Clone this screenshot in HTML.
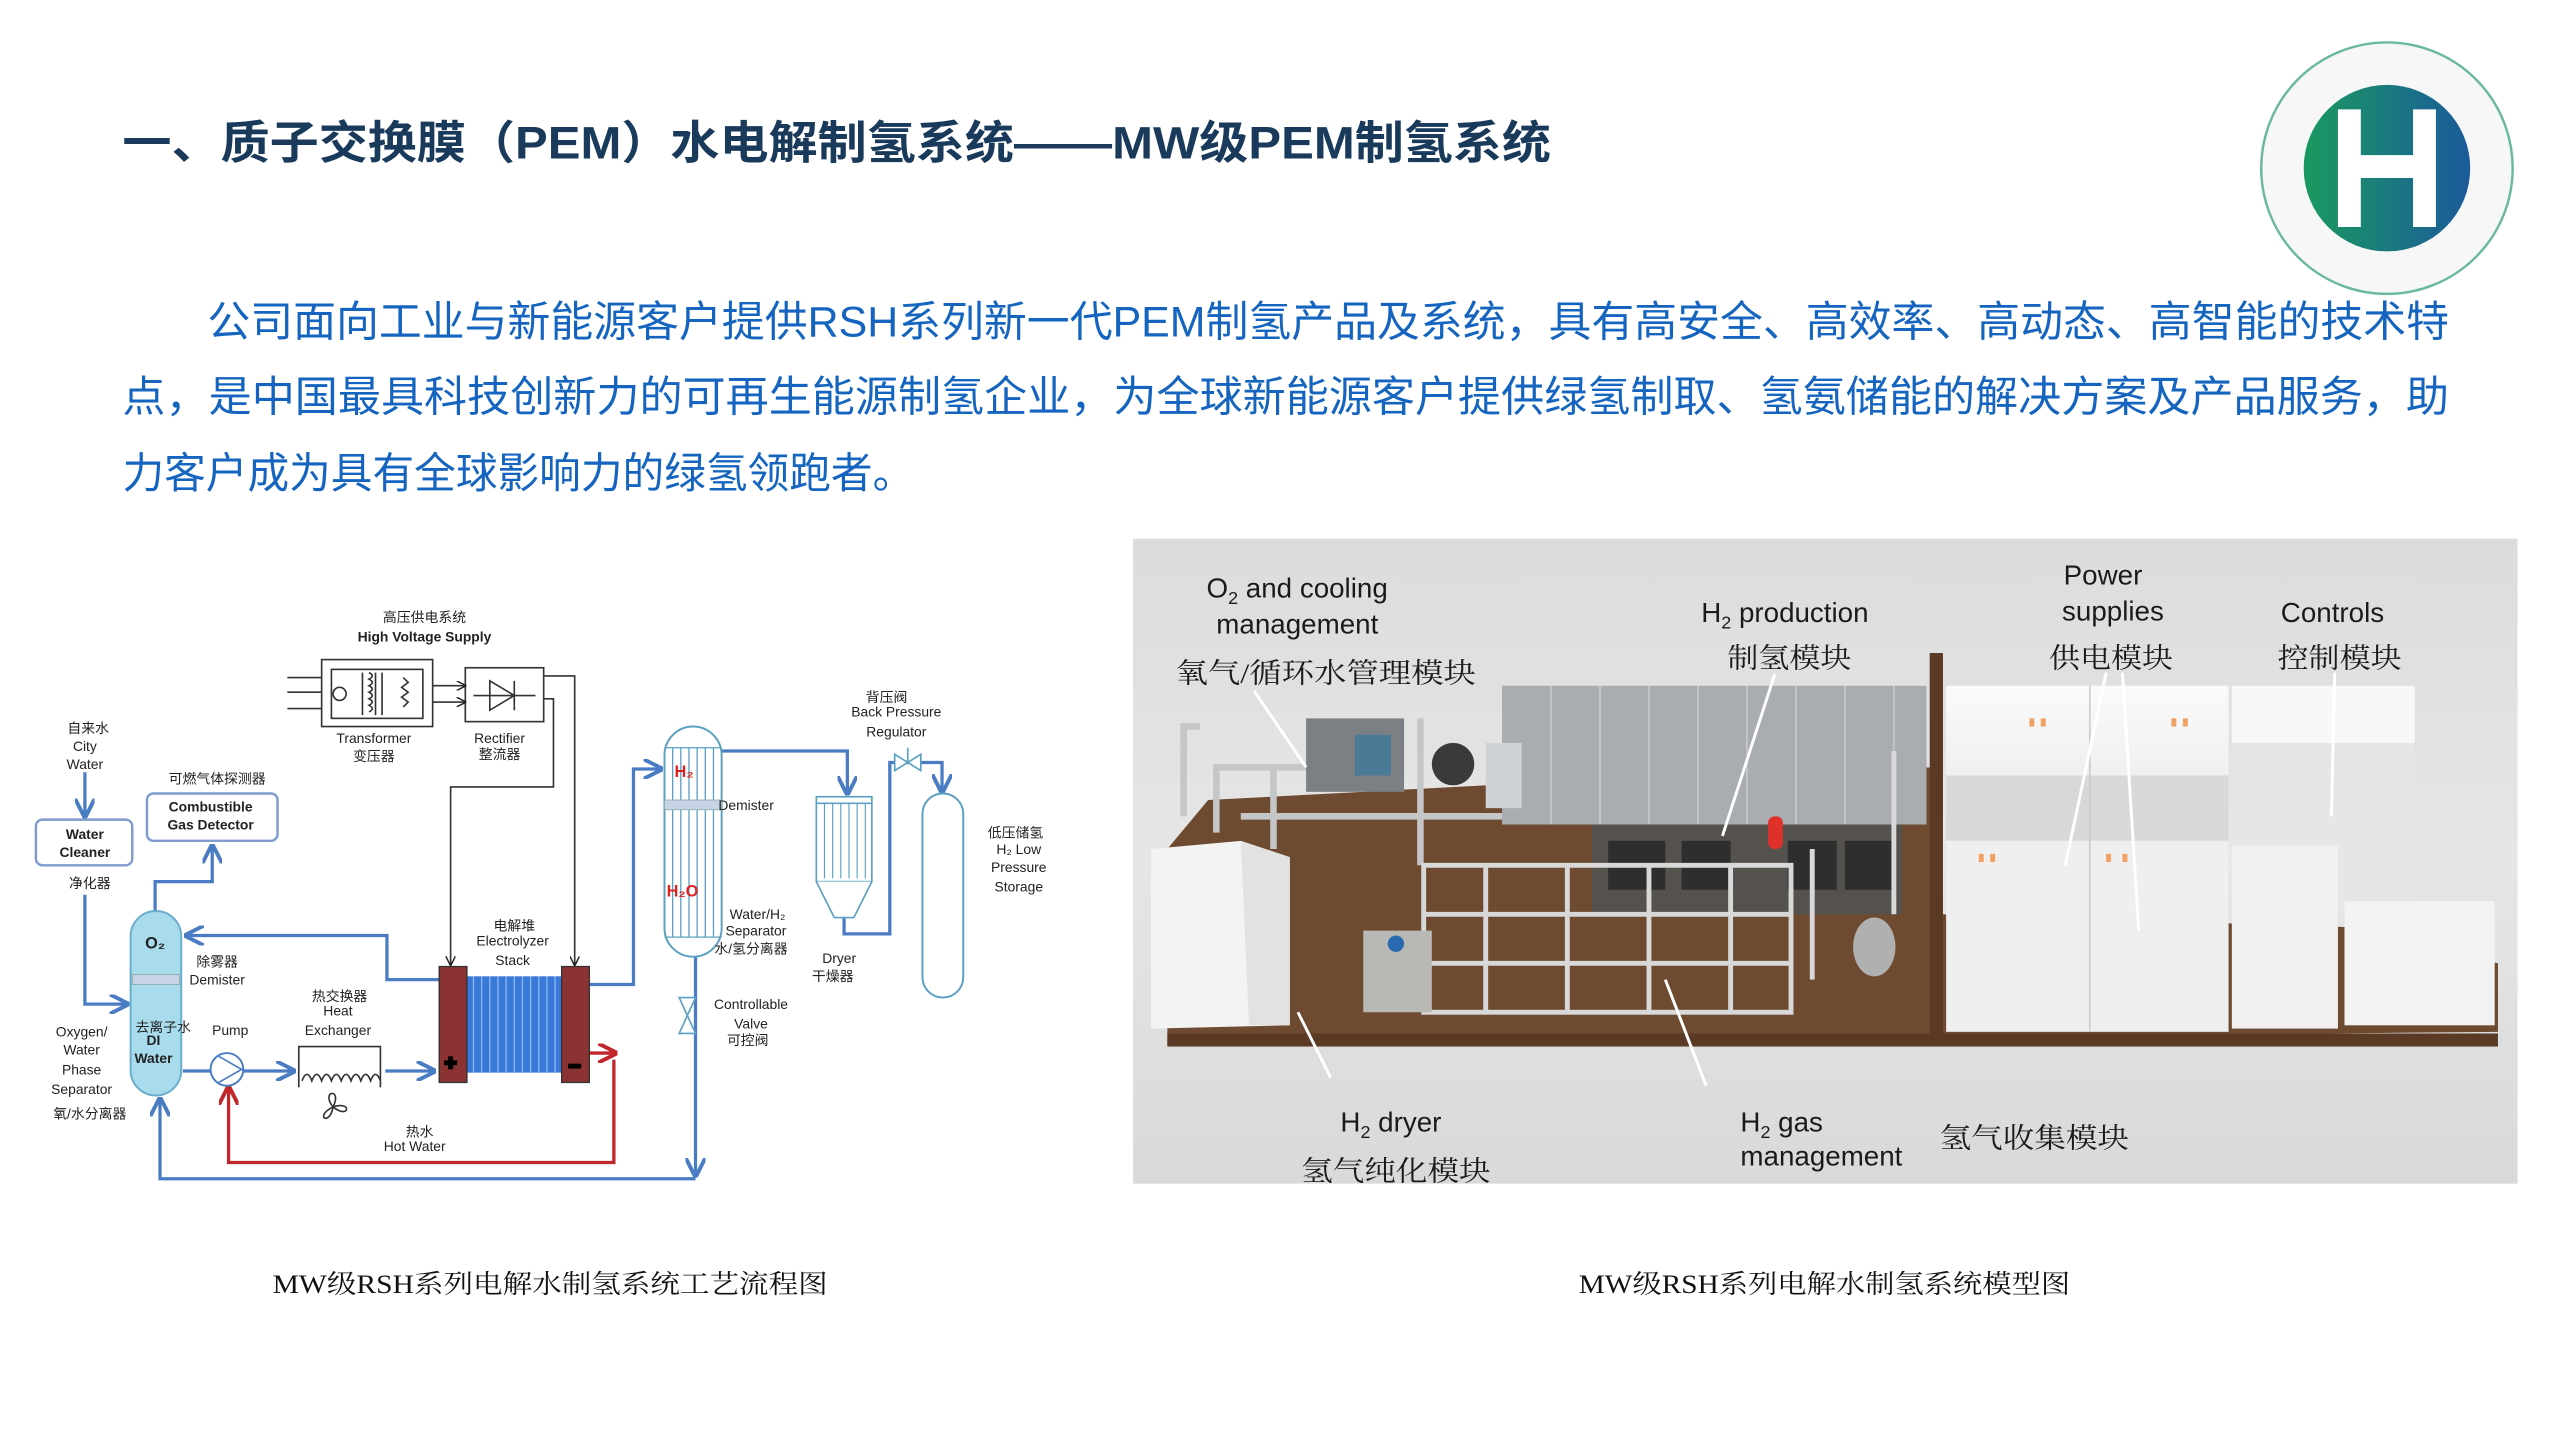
<!DOCTYPE html>
<html><head><meta charset="utf-8"><style>
html,body{margin:0;padding:0;background:#fff;width:2560px;height:1440px;overflow:hidden}
svg{display:block}
.t{font-family:"Liberation Sans","Noto Sans CJK SC",sans-serif}
.s{font-family:"Liberation Serif","Noto Serif CJK SC",serif}
</style></head><body>
<svg width="2560" height="1440" viewBox="0 0 1568 882" preserveAspectRatio="none" xmlns="http://www.w3.org/2000/svg">
<defs>
<linearGradient id="hg" x1="0" x2="1"><stop offset="0" stop-color="#1a9a60"/><stop offset="1" stop-color="#1a5a9a"/></linearGradient>
<linearGradient id="bg" x1="0" y1="0" x2="0" y2="1"><stop offset="0" stop-color="#dcdcdc"/><stop offset=".5" stop-color="#e6e6e6"/><stop offset="1" stop-color="#d9d9d9"/></linearGradient>
<linearGradient id="cab" x1="0" x2="0" y1="0" y2="1"><stop offset="0" stop-color="#fafafa"/><stop offset="1" stop-color="#e8e8e8"/></linearGradient>
<marker id="ab" viewBox="0 0 10 10" refX="9" refY="5" markerWidth="6" markerHeight="6" orient="auto"><path d="M0,0 L10,5 L0,10" fill="none" stroke="#4a7cc4" stroke-width="2"/></marker>
<marker id="ak" viewBox="0 0 10 10" refX="9" refY="5" markerWidth="6" markerHeight="6" orient="auto"><path d="M0,0 L10,5 L0,10" fill="none" stroke="#222" stroke-width="1.5"/></marker>
<marker id="ar" viewBox="0 0 10 10" refX="9" refY="5" markerWidth="6" markerHeight="6" orient="auto"><path d="M0,0 L10,5 L0,10" fill="none" stroke="#c0262a" stroke-width="2"/></marker>
</defs>

<!-- Title -->
<text class="t" x="75" y="97" font-size="28" font-weight="bold" fill="#1a3a5c" textLength="875" lengthAdjust="spacingAndGlyphs">一、质子交换膜（PEM）水电解制氢系统——MW级PEM制氢系统</text>

<!-- Logo -->
<circle cx="1462" cy="103" r="77" fill="#f7f7f7" stroke="#6ab8a0" stroke-width="1.5"/>
<circle cx="1462" cy="103" r="51" fill="url(#hg)"/>
<path d="M1432,67h14v28h32v-28h14v72h-14v-30h-32v30h-14z" fill="#fff"/>

<!-- Paragraph -->
<g class="t" font-size="26" fill="#1565c0">
<text x="127" y="206" textLength="1373" lengthAdjust="spacingAndGlyphs">公司面向工业与新能源客户提供RSH系列新一代PEM制氢产品及系统，具有高安全、高效率、高动态、高智能的技术特</text>
<text x="75" y="252" textLength="1425" lengthAdjust="spacingAndGlyphs">点，是中国最具科技创新力的可再生能源制氢企业，为全球新能源客户提供绿氢制取、氢氨储能的解决方案及产品服务，助</text>
<text x="75" y="299" textLength="485" lengthAdjust="spacingAndGlyphs">力客户成为具有全球影响力的绿氢领跑者。</text>
</g>

<!-- ===== Left process diagram ===== -->
<!-- transformer & rectifier -->
<g stroke="#333" fill="none" stroke-width="1">
<rect x="197" y="404" width="68" height="41" fill="#fff"/>
<rect x="203" y="410" width="56" height="30"/>
<line x1="176" y1="415" x2="197" y2="415"/><line x1="176" y1="424" x2="197" y2="424"/><line x1="176" y1="434" x2="197" y2="434"/>
<circle cx="208" cy="425" r="4"/>
<path d="M222,412v26M230,412v26M234,412v26M226,412 q4,2 0,4 q4,2 0,4 q4,2 0,4 q4,2 0,4 q4,2 0,4 q4,2 0,4"/>
<path d="M247,415l3,3l-4,3l4,3l-4,3l4,3l-3,3"/>
<rect x="285" y="409" width="48" height="33" fill="#fff"/>
<path d="M290,426h38M300,417v18l15,-9z M315,417v18"/>
<line x1="265" y1="420" x2="285" y2="420" marker-end="url(#ak)"/>
<line x1="265" y1="430" x2="285" y2="430" marker-end="url(#ak)"/>
<polyline points="333,414 352,414 352,591" marker-end="url(#ak)"/>
<polyline points="333,428 339,428 339,482 276,482 276,591" marker-end="url(#ak)"/>
</g>

<!-- blue pipes -->
<g stroke="#4a7cc4" stroke-width="2" fill="none">
<line x1="52" y1="473" x2="52" y2="500" marker-end="url(#ab)"/>
<polyline points="52,548 52,615 78,615" marker-end="url(#ab)"/>
<polyline points="95,558 95,540 130,540 130,518" marker-end="url(#ab)"/>
<polyline points="269,600 237,600 237,573 114,573" marker-end="url(#ab)"/>
<line x1="112" y1="656" x2="180" y2="656" marker-end="url(#ab)"/>
<line x1="236" y1="656" x2="266" y2="656" marker-end="url(#ab)"/>
<polyline points="361,603 388,603 388,471 405,471" marker-end="url(#ab)"/>
<polyline points="442,460 519,460 519,486" marker-end="url(#ab)"/>
<polyline points="517,562 517,572 545,572 545,467 577,467 577,485" marker-end="url(#ab)"/>
<polyline points="426,585 426,720" marker-end="url(#ab)"/>
<polyline points="426,722 98,722 98,673" marker-end="url(#ab)"/>
</g>
<!-- red hot water -->
<g stroke="#c0262a" stroke-width="2" fill="none">
<polyline points="376,649 376,712 140,712 140,666" marker-end="url(#ar)"/>
<line x1="361" y1="645" x2="377" y2="645" marker-end="url(#ar)"/>
</g>

<!-- boxes -->
<rect x="22" y="502" width="59" height="28" rx="4" fill="#fff" stroke="#7f9ccc" stroke-width="1.5"/>
<rect x="90" y="486" width="80" height="29" rx="4" fill="#fff" stroke="#7f9ccc" stroke-width="1.5"/>

<!-- O2 separator -->
<rect x="80" y="558" width="31" height="113" rx="15.5" fill="#a8dcec" stroke="#6aaccc" stroke-width="1.2"/>
<rect x="81" y="597" width="29" height="6" fill="#c9d3e6" stroke="#8aa" stroke-width=".5"/>

<!-- pump -->
<circle cx="139" cy="655" r="10" fill="#fff" stroke="#4a7cc4" stroke-width="1.2"/>
<path d="M134,647 L148,655 L134,663" fill="none" stroke="#4a7cc4" stroke-width="1"/>

<!-- heat exchanger -->
<g stroke="#333" fill="none" stroke-width="1">
<polyline points="183,666 183,641 233,641 233,666"/>
<path d="M185,662 q3,-8 6,0 q3,-8 6,0 q3,-8 6,0 q3,-8 6,0 q3,-8 6,0 q3,-8 6,0 q3,-8 6,0 q3,-8 6,0"/>
<path d="M204,678 c-8,-10 6,-12 0,0 c12,-4 10,8 0,0 c-2,12 -12,6 0,0"/>
</g>

<!-- stack -->
<rect x="286" y="598" width="58" height="59" fill="#3a78d8"/>
<g stroke="#8ab8f0" stroke-width=".8">
<line x1="290" y1="598" x2="290" y2="657"/><line x1="295" y1="598" x2="295" y2="657"/><line x1="300" y1="598" x2="300" y2="657"/><line x1="305" y1="598" x2="305" y2="657"/><line x1="310" y1="598" x2="310" y2="657"/><line x1="315" y1="598" x2="315" y2="657"/><line x1="320" y1="598" x2="320" y2="657"/><line x1="325" y1="598" x2="325" y2="657"/><line x1="330" y1="598" x2="330" y2="657"/><line x1="335" y1="598" x2="335" y2="657"/><line x1="340" y1="598" x2="340" y2="657"/>
</g>
<rect x="269" y="592" width="17" height="71" fill="#8b3232" stroke="#333" stroke-width=".8"/>
<rect x="344" y="592" width="17" height="71" fill="#8b3232" stroke="#333" stroke-width=".8"/>
<path d="M272,651h8M276,647v8" stroke="#000" stroke-width="3"/>
<path d="M348,653h8" stroke="#000" stroke-width="3"/>

<!-- H2 separator -->
<rect x="407" y="445" width="35" height="141" rx="17.5" fill="#fff" stroke="#5aa0c0" stroke-width="1.2"/>
<g stroke="#5aa0c0" stroke-width=".8">
<line x1="412" y1="458" x2="412" y2="574"/><line x1="417" y1="458" x2="417" y2="574"/><line x1="422" y1="458" x2="422" y2="574"/><line x1="427" y1="458" x2="427" y2="574"/><line x1="432" y1="458" x2="432" y2="574"/><line x1="437" y1="458" x2="437" y2="574"/>
<line x1="407" y1="458" x2="442" y2="458"/><line x1="407" y1="574" x2="442" y2="574"/>
</g>
<rect x="407" y="490" width="35" height="6" fill="#c9d3e6" stroke="#8aa" stroke-width=".5"/>

<!-- valve -->
<path d="M416,611 L426,611 L416,633 L426,633 Z" fill="#fff" stroke="#5aa0c0" stroke-width="1"/>
<!-- back pressure regulator -->
<path d="M548,462 L548,472 L564,462 L564,472 Z" fill="#fff" stroke="#5aa0c0" stroke-width="1"/>
<line x1="556" y1="458" x2="556" y2="467" stroke="#5aa0c0"/>

<!-- dryer -->
<g stroke="#5aa0c0" fill="#fff" stroke-width="1">
<rect x="500" y="488" width="34" height="52"/>
<line x1="500" y1="492" x2="534" y2="492"/>
<path d="M500,540 L511,562 L523,562 L534,540"/>
<path d="M505,492v46M510,492v46M515,492v46M520,492v46M525,492v46M530,492v46" fill="none" stroke-width=".7"/>
</g>
<!-- tank -->
<rect x="565" y="486" width="25" height="125" rx="12.5" fill="#fff" stroke="#5aa0c0" stroke-width="1.2"/>

<!-- left labels (on top) -->
<g class="t" fill="#222" font-size="8.5" text-anchor="middle">
<text x="260" y="381">高压供电系统</text>
<text x="260" y="393" font-weight="bold">High Voltage Supply</text>
<text x="229" y="455">Transformer</text><text x="229" y="466">变压器</text>
<text x="306" y="455">Rectifier</text><text x="306" y="465">整流器</text>
<text x="54" y="449">自来水</text><text x="52" y="460">City</text><text x="52" y="471">Water</text>
<text x="52" y="514" font-weight="bold">Water</text><text x="52" y="525" font-weight="bold">Cleaner</text>
<text x="55" y="544">净化器</text>
<text x="133" y="480">可燃气体探测器</text>
<text x="129" y="497" font-weight="bold">Combustible</text><text x="129" y="508" font-weight="bold">Gas Detector</text>
<text x="133" y="592">除雾器</text><text x="133" y="603">Demister</text>
<text x="100" y="632">去离子水</text><text x="94" y="640" font-weight="bold">DI</text><text x="94" y="651" font-weight="bold">Water</text>
<text x="50" y="635">Oxygen/</text><text x="50" y="646">Water</text><text x="50" y="658">Phase</text><text x="50" y="670">Separator</text>
<text x="55" y="685">氧/水分离器</text>
<text x="141" y="634">Pump</text>
<text x="208" y="613">热交换器</text><text x="207" y="622">Heat</text><text x="207" y="634">Exchanger</text>
<text x="315" y="570">电解堆</text><text x="314" y="579">Electrolyzer</text><text x="314" y="591">Stack</text>
<text x="257" y="696">热水</text><text x="254" y="705">Hot Water</text>
<text x="440" y="496" text-anchor="start">Demister</text>
<text x="464" y="563">Water/H₂</text><text x="463" y="573">Separator</text><text x="460" y="584">水/氢分离器</text>
<text x="514" y="590">Dryer</text><text x="510" y="601">干燥器</text>
<text x="460" y="618">Controllable</text><text x="460" y="630">Valve</text><text x="458" y="640">可控阀</text>
<text x="543" y="430">背压阀</text><text x="549" y="439">Back Pressure</text><text x="549" y="451">Regulator</text>
<text x="622" y="513">低压储氢</text><text x="624" y="523">H₂ Low</text><text x="624" y="534">Pressure</text><text x="624" y="546">Storage</text>
</g>
<text class="t" x="95" y="581" font-size="10" font-weight="bold" text-anchor="middle" fill="#222">O₂</text>
<text class="t" x="419" y="476" font-size="10" font-weight="bold" text-anchor="middle" fill="#d22">H₂</text>
<text class="t" x="418" y="549" font-size="10" font-weight="bold" text-anchor="middle" fill="#d22">H₂O</text>

<!-- ===== Right model image ===== -->
<rect x="694" y="330" width="848" height="395" fill="url(#bg)"/>
<!-- floor -->
<polygon points="715,640 1530,632 1530,590 1505,585 1505,570 1190,560 1190,400 1182,400 1182,470 930,480 740,490 715,520" fill="#6e4b30"/>
<rect x="715" y="633" width="815" height="8" fill="#5a3a24"/>
<!-- machinery -->
<polygon points="920,420 1180,420 1180,505 920,505" fill="#a9adb0"/>
<g stroke="#c8cacc" stroke-width="1"><line x1="950" y1="420" x2="950" y2="505"/><line x1="980" y1="420" x2="980" y2="505"/><line x1="1010" y1="420" x2="1010" y2="505"/><line x1="1040" y1="420" x2="1040" y2="505"/><line x1="1070" y1="420" x2="1070" y2="505"/><line x1="1100" y1="420" x2="1100" y2="505"/><line x1="1130" y1="420" x2="1130" y2="505"/><line x1="1160" y1="420" x2="1160" y2="505"/></g>
<rect x="975" y="505" width="190" height="55" fill="#55524e"/>
<rect x="985" y="515" width="35" height="30" fill="#2e2e2e"/><rect x="1030" y="515" width="30" height="30" fill="#2e2e2e"/><rect x="1095" y="515" width="30" height="30" fill="#2e2e2e"/><rect x="1130" y="515" width="30" height="30" fill="#2e2e2e"/>
<rect x="1083" y="500" width="9" height="20" rx="4" fill="#e0302a"/>
<!-- O2/cooling pipework -->
<g stroke="#c4c6c8" stroke-width="4" fill="none">
<path d="M725,500 v-55 h10 M745,510 v-40 h80 M760,500 h160 M780,470 v50 M870,440 v90"/>
</g>
<rect x="800" y="440" width="60" height="45" fill="#7c8084"/>
<rect x="830" y="450" width="22" height="25" fill="#4a7a96"/>
<circle cx="890" cy="468" r="13" fill="#3a3a3a"/>
<rect x="910" y="455" width="22" height="40" fill="#cfd2d4"/>
<!-- pipe frame -->
<g stroke="#d8d8d8" stroke-width="3" fill="none">
<rect x="872" y="530" width="225" height="90"/>
<line x1="872" y1="560" x2="1097" y2="560"/><line x1="872" y1="590" x2="1097" y2="590"/>
<line x1="910" y1="530" x2="910" y2="620"/><line x1="960" y1="530" x2="960" y2="620"/><line x1="1010" y1="530" x2="1010" y2="620"/><line x1="1060" y1="530" x2="1060" y2="620"/>
<path d="M1110,520 v80 M1160,460 v100" />
</g>
<rect x="835" y="570" width="42" height="50" fill="#b8b8b4"/>
<circle cx="855" cy="578" r="5" fill="#2a6ab0"/>
<ellipse cx="1148" cy="580" rx="13" ry="18" fill="#b0b0b0"/>
<!-- left white box -->
<polygon points="705,520 760,515 790,525 790,628 705,630" fill="#f3f3f3"/>
<polygon points="760,515 790,525 790,628 765,628" fill="#e2e2e2"/>
<!-- divider wall -->
<rect x="1182" y="400" width="8" height="240" fill="#5a3a24"/>
<!-- power cabinets -->
<rect x="1192" y="420" width="173" height="95" fill="url(#cab)"/>
<rect x="1192" y="475" width="173" height="40" fill="#d8d8d8"/>
<rect x="1192" y="515" width="173" height="117" fill="#efefef"/>
<line x1="1280" y1="420" x2="1280" y2="632" stroke="#ccc"/>
<g fill="#f0a060"><rect x="1243" y="440" width="3" height="5"/><rect x="1250" y="440" width="3" height="5"/><rect x="1330" y="440" width="3" height="5"/><rect x="1337" y="440" width="3" height="5"/><rect x="1212" y="523" width="3" height="5"/><rect x="1219" y="523" width="3" height="5"/><rect x="1290" y="523" width="3" height="5"/><rect x="1300" y="523" width="3" height="5"/></g>
<!-- controls -->
<rect x="1367" y="420" width="112" height="140" fill="#e6e6e6"/>
<rect x="1367" y="420" width="112" height="35" fill="#f8f8f8"/>
<rect x="1367" y="518" width="65" height="112" fill="#f0f0f0"/>
<rect x="1436" y="552" width="92" height="76" fill="#f3f3f3"/>
<!-- leader lines -->
<g stroke="#fff" stroke-width="1.8">
<line x1="768" y1="423" x2="800" y2="470"/><line x1="1087" y1="413" x2="1055" y2="512"/>
<line x1="1290" y1="412" x2="1265" y2="530"/><line x1="1300" y1="412" x2="1310" y2="570"/>
<line x1="1430" y1="412" x2="1428" y2="500"/>
<line x1="795" y1="620" x2="815" y2="660"/><line x1="1020" y1="600" x2="1045" y2="665"/>
</g>
<!-- labels -->
<g font-family="Liberation Sans, sans-serif" font-size="17" fill="#1a1a1a">
<text x="739" y="366">O<tspan font-size="11" dy="4">2</tspan><tspan dy="-4"> and cooling</tspan></text>
<text x="745" y="388">management</text>
<text x="1042" y="381">H<tspan font-size="11" dy="4">2</tspan><tspan dy="-4"> production</tspan></text>
<text x="1264" y="358">Power</text><text x="1263" y="380">supplies</text>
<text x="1397" y="381">Controls</text>
<text x="821" y="693">H<tspan font-size="11" dy="4">2</tspan><tspan dy="-4"> dryer</tspan></text>
<text x="1066" y="693">H<tspan font-size="11" dy="4">2</tspan><tspan dy="-4"> gas</tspan></text>
<text x="1066" y="714">management</text>
</g>
<g class="s" font-size="17" fill="#1a1a1a">
<text x="720" y="418" textLength="184" lengthAdjust="spacingAndGlyphs">氧气/循环水管理模块</text>
<text x="1058" y="409" textLength="76" lengthAdjust="spacingAndGlyphs">制氢模块</text>
<text x="1255" y="409" textLength="76" lengthAdjust="spacingAndGlyphs">供电模块</text>
<text x="1395" y="409" textLength="76" lengthAdjust="spacingAndGlyphs">控制模块</text>
<text x="797" y="723" textLength="116" lengthAdjust="spacingAndGlyphs">氢气纯化模块</text>
<text x="1188" y="703" textLength="116" lengthAdjust="spacingAndGlyphs">氢气收集模块</text>
</g>

<!-- captions -->
<g class="s" font-size="16" fill="#111">
<text x="167" y="792" textLength="340" lengthAdjust="spacingAndGlyphs">MW级RSH系列电解水制氢系统工艺流程图</text>
<text x="967" y="792" textLength="301" lengthAdjust="spacingAndGlyphs">MW级RSH系列电解水制氢系统模型图</text>
</g>
</svg>
</body></html>
